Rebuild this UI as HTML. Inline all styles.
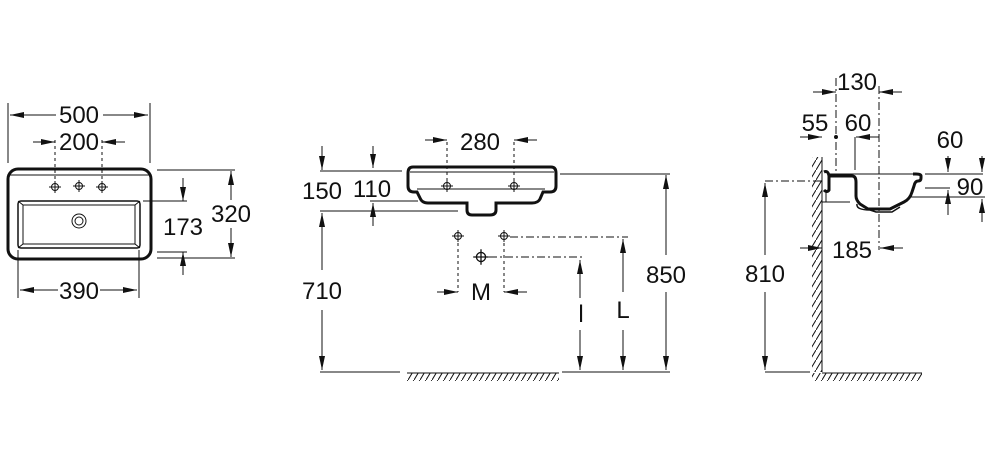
<!DOCTYPE html>
<html><head><meta charset="utf-8"><style>
html,body{margin:0;padding:0;background:#fff;}
svg{display:block;}
text{font-family:"Liberation Sans",sans-serif;font-size:24px;fill:#111;text-anchor:middle;}
</style></head><body>
<svg width="1000" height="450" viewBox="0 0 1000 450" xmlns="http://www.w3.org/2000/svg">
<defs>
<marker id="a" viewBox="0 0 14 6" refX="14" refY="3" markerWidth="14" markerHeight="6" markerUnits="userSpaceOnUse" orient="auto"><path d="M0,0 L14,3 L0,6 Z" fill="#111"/></marker>
<pattern id="h" width="6" height="10" patternUnits="userSpaceOnUse"><path d="M6,0 L0,10" stroke="#111" stroke-width="1"/></pattern>
<g id="x"><circle r="3.5"/><path d="M-6,0 H6 M0,-6 V6"/></g>
</defs>
<g stroke="#111" stroke-width="1" fill="none">
<!-- LEFT VIEW -->
<rect x="8" y="169" width="143" height="90" rx="10" stroke-width="3"/>
<line x1="9" y1="175" x2="150" y2="175"/>
<rect x="18" y="201" width="122" height="47" rx="3" stroke-width="1.5"/>
<rect x="23" y="205" width="112" height="39"/>
<line x1="18" y1="201" x2="23" y2="205"/><line x1="140" y1="201" x2="135" y2="205"/>
<line x1="18" y1="248" x2="23" y2="244"/><line x1="140" y1="248" x2="135" y2="244"/>
<circle cx="79" cy="221" r="7"/><circle cx="79" cy="221" r="4"/>
<use href="#x" x="55" y="187"/><use href="#x" x="79" y="186"/><use href="#x" x="102" y="187"/>
<line x1="8" y1="103" x2="8" y2="163"/><line x1="150" y1="103" x2="150" y2="163"/>
<line x1="55" y1="140" x2="55" y2="182" stroke-dasharray="3,3"/><line x1="102" y1="140" x2="102" y2="182" stroke-dasharray="3,3"/>
<line x1="56" y1="115" x2="10" y2="115" marker-end="url(#a)"/><line x1="103" y1="115" x2="148" y2="115" marker-end="url(#a)"/>
<line x1="33" y1="142" x2="55" y2="142" marker-end="url(#a)"/><line x1="125" y1="142" x2="102" y2="142" marker-end="url(#a)"/>
<line x1="143" y1="201" x2="187" y2="201"/><line x1="157" y1="252" x2="187" y2="252"/>
<line x1="183" y1="178" x2="183" y2="201" marker-end="url(#a)"/><line x1="183" y1="275" x2="183" y2="252" marker-end="url(#a)"/>
<line x1="157" y1="170" x2="235" y2="170"/><line x1="157" y1="258" x2="235" y2="258"/>
<line x1="231" y1="200" x2="231" y2="171" marker-end="url(#a)"/><line x1="231" y1="228" x2="231" y2="257" marker-end="url(#a)"/>
<line x1="18" y1="250" x2="18" y2="298"/><line x1="139" y1="250" x2="139" y2="298"/>
<line x1="58" y1="290" x2="20" y2="290" marker-end="url(#a)"/><line x1="100" y1="290" x2="137" y2="290" marker-end="url(#a)"/>

<!-- MIDDLE VIEW -->
<path d="M413,167 H551 Q556,167 556,173 V186 Q556,192 550,192 H543 L540,199 Q538,203 532,203 H496 V210 Q496,215 490,215 H472 Q467,215 467,210 V203 H428 Q422,203 420,198 L417,192 H414 Q408,192 408,186 V173 Q408,167 413,167 Z" stroke-width="3"/>
<line x1="410" y1="172" x2="554" y2="172"/>
<line x1="417" y1="189" x2="545" y2="189"/>
<use href="#x" x="447" y="186"/><use href="#x" x="514" y="186"/>
<line x1="447" y1="142" x2="447" y2="180" stroke-dasharray="3,3"/><line x1="514" y1="142" x2="514" y2="180" stroke-dasharray="3,3"/>
<line x1="425" y1="140" x2="447" y2="140" marker-end="url(#a)"/><line x1="537" y1="140" x2="514" y2="140" marker-end="url(#a)"/>
<line x1="320" y1="171" x2="402" y2="171"/><line x1="370" y1="201" x2="418" y2="201"/><line x1="320" y1="211" x2="458" y2="211"/>
<line x1="322" y1="146" x2="322" y2="170" marker-end="url(#a)"/>
<line x1="373" y1="146" x2="373" y2="168" marker-end="url(#a)"/>
<line x1="373" y1="226" x2="373" y2="203" marker-end="url(#a)"/>
<line x1="322" y1="270" x2="322" y2="213" marker-end="url(#a)"/><line x1="322" y1="310" x2="322" y2="370" marker-end="url(#a)"/>
<line x1="320" y1="372" x2="400" y2="372"/><line x1="562" y1="372" x2="670" y2="372"/>
<rect x="407" y="373" width="152" height="8" fill="url(#h)" stroke="none"/>
<line x1="407" y1="373" x2="559" y2="373"/>
<use href="#x" x="458" y="236"/><use href="#x" x="504" y="236"/>
<g transform="translate(481,257) scale(1.3)"><circle r="3.5"/><path d="M-6,0 H6 M0,-6 V6"/></g>
<line x1="458" y1="243" x2="458" y2="292" stroke-dasharray="3,3"/><line x1="504" y1="243" x2="504" y2="292" stroke-dasharray="3,3"/>
<line x1="510" y1="237" x2="628" y2="237" stroke-dasharray="8,3,2,3"/>
<line x1="489" y1="257" x2="584" y2="257" stroke-dasharray="8,3,2,3"/>
<line x1="437" y1="292" x2="458" y2="292" marker-end="url(#a)"/><line x1="527" y1="292" x2="504" y2="292" marker-end="url(#a)"/>
<line x1="580" y1="298" x2="580" y2="260" marker-end="url(#a)"/><line x1="580" y1="330" x2="580" y2="370" marker-end="url(#a)"/>
<line x1="623" y1="292" x2="623" y2="239" marker-end="url(#a)"/><line x1="623" y1="330" x2="623" y2="370" marker-end="url(#a)"/>
<line x1="560" y1="174" x2="670" y2="174"/>
<line x1="666" y1="255" x2="666" y2="175" marker-end="url(#a)"/><line x1="666" y1="292" x2="666" y2="370" marker-end="url(#a)"/>

<!-- RIGHT VIEW -->
<rect x="812" y="157" width="10" height="215" fill="url(#h)" stroke="none"/>
<line x1="822" y1="157" x2="822" y2="372"/>
<rect x="812" y="373" width="110" height="8" fill="url(#h)" stroke="none"/>
<line x1="822" y1="373" x2="922" y2="373"/>
<path d="M824,172 Q828,170 829,176 L829,190 Q827,193 824,190" stroke-width="3"/>
<path d="M830,176 H852 Q856,176 856,182 V196 Q856,200 860,204 L868,209 H890 L904,202 Q910,199 912,192 L914,186 Q915,181 918,181 Q921,181 921,178 V176 Q921,174 916,174 H913" stroke-width="3"/>
<line x1="830" y1="174" x2="915" y2="174"/>
<line x1="822" y1="202" x2="850" y2="202"/>
<line x1="826" y1="192" x2="826" y2="202"/>
<path d="M857,204 Q856,210 870,210 L876,212 H892 L900,207" stroke-width="1.5"/>
<line x1="836" y1="78" x2="836" y2="176" stroke-dasharray="8,3,2,3"/>
<line x1="879" y1="86" x2="879" y2="250" stroke-dasharray="8,3,2,3"/>
<line x1="813" y1="92" x2="836" y2="92" marker-end="url(#a)"/><line x1="902" y1="92" x2="879" y2="92" marker-end="url(#a)"/>
<line x1="800" y1="137" x2="822" y2="137" marker-end="url(#a)"/>
<circle cx="836" cy="137" r="1.5" fill="#111"/>
<line x1="855" y1="137" x2="855" y2="170"/>
<line x1="879" y1="137" x2="856" y2="137" marker-end="url(#a)"/>
<line x1="925" y1="174" x2="983" y2="174"/>
<line x1="948" y1="156" x2="948" y2="172" marker-end="url(#a)"/><line x1="982" y1="156" x2="982" y2="172" marker-end="url(#a)"/>
<line x1="925" y1="188" x2="950" y2="188"/><line x1="910" y1="197" x2="985" y2="197"/>
<line x1="948" y1="215" x2="948" y2="190" marker-end="url(#a)"/><line x1="982" y1="222" x2="982" y2="199" marker-end="url(#a)"/>
<line x1="765" y1="181" x2="822" y2="181" stroke-dasharray="8,3,2,3"/>
<line x1="765" y1="255" x2="765" y2="183" marker-end="url(#a)"/><line x1="765" y1="292" x2="765" y2="370" marker-end="url(#a)"/>
<line x1="765" y1="372" x2="810" y2="372"/>
<line x1="800" y1="248" x2="822" y2="248" marker-end="url(#a)"/><line x1="903" y1="248" x2="880" y2="248" marker-end="url(#a)"/>
</g>
<g stroke="none">
<text x="79" y="123">500</text>
<text x="79" y="150">200</text>
<text x="183" y="235">173</text>
<text x="231" y="222">320</text>
<text x="79" y="299">390</text>
<text x="480" y="150">280</text>
<text x="322" y="199">150</text>
<text x="372" y="197">110</text>
<text x="322" y="299">710</text>
<text x="481" y="300">M</text>
<text x="581" y="322">l</text>
<text x="623" y="318">L</text>
<text x="666" y="283">850</text>
<text x="857" y="90">130</text>
<text x="815" y="131">55</text>
<text x="858" y="131">60</text>
<text x="950" y="148">60</text>
<text x="970" y="195">90</text>
<text x="765" y="282">810</text>
<text x="852" y="258">185</text>
</g>
</svg>
</body></html>
